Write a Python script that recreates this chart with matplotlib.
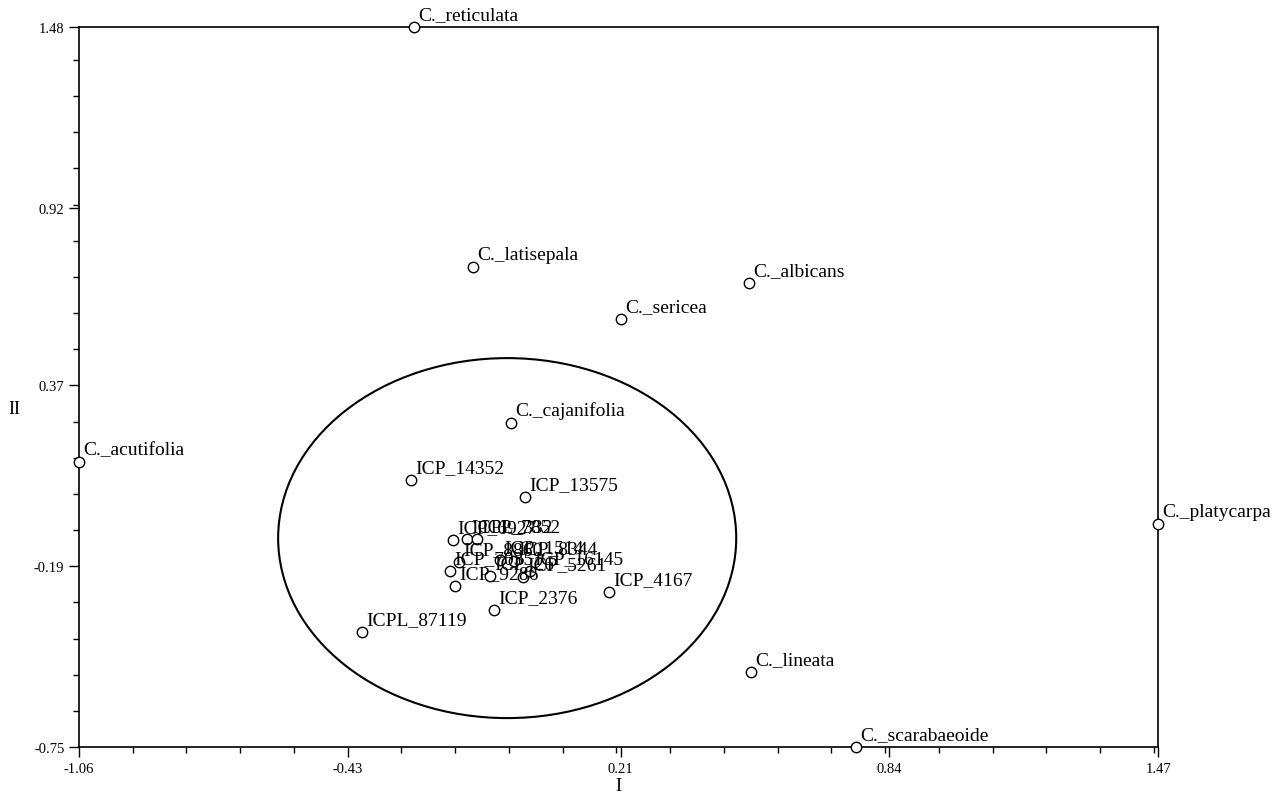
import numpy as np
import matplotlib
matplotlib.use('Agg')
import matplotlib.pyplot as plt
from matplotlib.patches import Ellipse
from matplotlib.ticker import AutoMinorLocator

# toạ độ hai trục chính I, II
NAMES = [
    'C._reticulata', 'C._latisepala', 'C._albicans', 'C._sericea',
    'C._cajanifolia', 'C._acutifolia', 'ICP_14352', 'ICP_13575',
    'C._platycarpa', 'ICP_4167', 'ICP_2376', 'ICPL_87119',
    'C._lineata', 'C._scarabaeoide',
    'ICP_6927', 'ICPL_332', 'ICP_7852', 'ICP_8860', 'ICP_7035',
    'ICP_9286', 'ICP_26', 'ICP_5261', 'ICP_16145', 'ICP_1514', 'ICP_8344',
]
PC1 = [-0.275, -0.136, 0.511, 0.211, -0.047, -1.06, -0.282, -0.014,
       1.47, 0.183, -0.087, -0.396, 0.516, 0.762,
       -0.183, -0.150, -0.127, -0.169, -0.190,
       -0.178, -0.096, -0.019, -0.003, -0.073, -0.040]
PC2 = [1.48, 0.737, 0.687, 0.576, 0.254, 0.133, 0.077, 0.024,
       -0.059, -0.270, -0.326, -0.394, -0.518, -0.75,
       -0.109, -0.106, -0.106, -0.177, -0.205,
       -0.251, -0.220, -0.223, -0.205, -0.171, -0.174]

XTICKS = [-1.06, -0.43, 0.21, 0.84, 1.47]
YTICKS = [-0.75, -0.19, 0.37, 0.92, 1.48]

plt.rcParams['font.family'] = ['Liberation Serif', 'DejaVu Serif']

fig = plt.figure(figsize=(12.86, 8.03), dpi=100)
ax = fig.add_axes([0.0614, 0.0685, 0.8391, 0.8966])

ax.plot(PC1, PC2, 'o', ms=7.5, mfc='white', mec='black', mew=1.0, clip_on=False, zorder=3)
for n, x, y in zip(NAMES, PC1, PC2):
    ax.annotate(n, (x, y), xytext=(3, 3), textcoords='offset points',
                ha='left', va='bottom', fontsize=14, annotation_clip=False, zorder=4)

# vòng nhóm các giống trồng
ax.add_patch(Ellipse((-0.056, -0.103), 1.074, 1.115, fill=False, ec='black', lw=1.5, clip_on=False))

ax.set_xlim(-1.06, 1.47)
ax.set_ylim(-0.75, 1.48)
ax.set_xticks(XTICKS)
ax.set_xticklabels(['%.2f' % v for v in XTICKS])
ax.set_yticks(YTICKS)
ax.set_yticklabels(['%.2f' % v for v in YTICKS])
ax.xaxis.set_minor_locator(AutoMinorLocator(5))
ax.yaxis.set_minor_locator(AutoMinorLocator(5))
ax.tick_params(which='major', length=7, width=1, labelsize=10.5)
ax.tick_params(which='minor', length=4, width=1)
for s in ax.spines.values():
    s.set_linewidth(1.2)

ax.set_xlabel('I', fontsize=13, labelpad=2)
fig.text(14 / 1286, 1 - 410 / 803, 'II', fontsize=13, ha='center', va='center')

fig.savefig('out.png', dpi=100)
